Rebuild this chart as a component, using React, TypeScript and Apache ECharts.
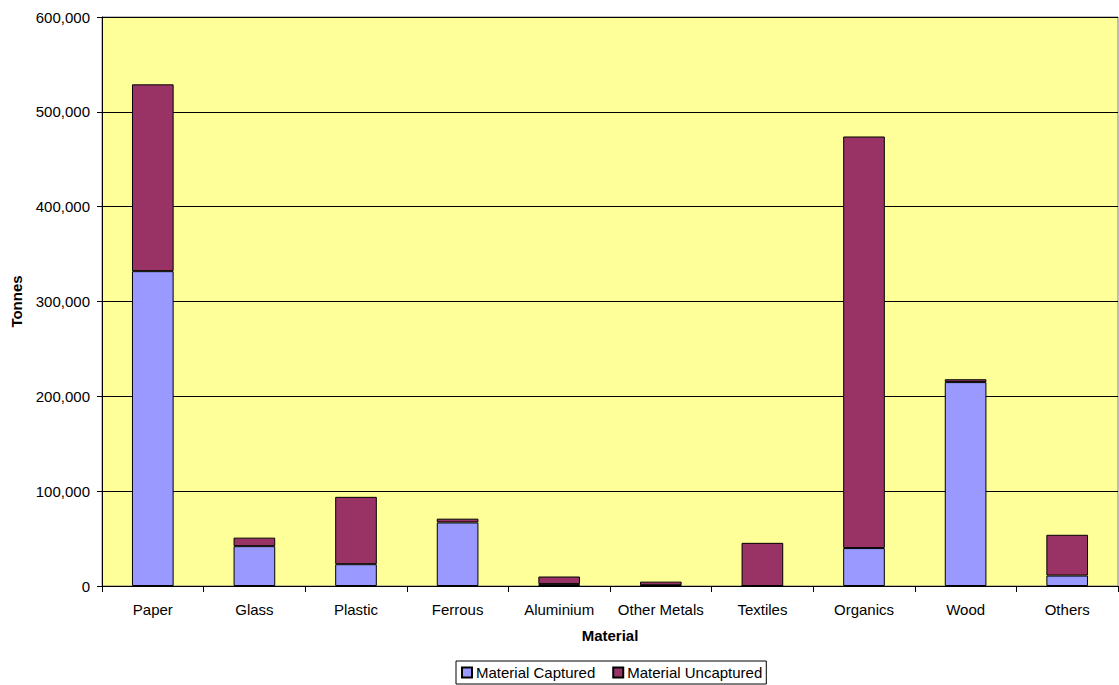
import React, { useEffect, useRef } from "react";
import * as echarts from "echarts";

const categories = [
  "Paper",
  "Glass",
  "Plastic",
  "Ferrous",
  "Aluminium",
  "Other Metals",
  "Textiles",
  "Organics",
  "Wood",
  "Others",
];

const captured = [332000, 42000, 23000, 67000, 2000, 800, 0, 40000, 215000, 11000];
const uncaptured = [197000, 9000, 71000, 4000, 8000, 3800, 45500, 434000, 3000, 43000];

const seriesNames = ["Material Captured", "Material Uncaptured"];
const yTicks = { min: 0, max: 600000, interval: 100000 };

const FONT = "Liberation Sans, Arial, sans-serif";

export default function App() {
  const ref = useRef<HTMLDivElement>(null);

  useEffect(() => {
    if (!ref.current) return;
    const chart = echarts.init(ref.current, undefined, { renderer: "svg" });
    const fmt = (v: number) => v.toLocaleString("en-US");
    chart.setOption({
      animation: false,
      textStyle: { fontFamily: FONT },
      grid: {
        left: 102,
        right: 1,
        top: 17,
        bottom: 99,
        outerBoundsMode: "none",
        containLabel: false,
        show: true,
        backgroundColor: "#FFFF99",
        borderColor: "#808080",
        borderWidth: 1,
      },
      legend: {
        top: 661,
        left: 456,
        data: seriesNames,
        icon: "rect",
        itemWidth: 10,
        itemHeight: 10,
        itemGap: 17,
        backgroundColor: "#FFFFFF",
        borderColor: "#000000",
        borderWidth: 1,
        borderRadius: 0,
        padding: [4, 4, 4, 5],
        textStyle: { fontFamily: FONT, fontSize: 15, color: "#000", padding: [0, 0, 0, -1] },
      },
      xAxis: {
        type: "category",
        data: categories,
        name: "Material",
        nameLocation: "middle",
        nameGap: 42,
        nameTextStyle: { fontFamily: FONT, fontSize: 15, fontWeight: "bold", color: "#000" },
        axisLine: { lineStyle: { color: "#000", width: 1 } },
        axisTick: { show: true, length: 6, interval: 0, lineStyle: { color: "#000" } },
        axisLabel: { fontFamily: FONT, fontSize: 15, color: "#000", margin: 16, interval: 0 },
      },
      yAxis: {
        type: "value",
        min: yTicks.min,
        max: yTicks.max,
        interval: yTicks.interval,
        name: "Tonnes",
        nameLocation: "middle",
        nameGap: 78,
        nameRotate: 90,
        nameTextStyle: { fontFamily: FONT, fontSize: 15, fontWeight: "bold", color: "#000" },
        axisLine: { show: true, lineStyle: { color: "#000", width: 1 } },
        axisTick: { show: true, length: 5, lineStyle: { color: "#000" } },
        axisLabel: { fontFamily: FONT, fontSize: 15, color: "#000", margin: 12, formatter: fmt },
        splitLine: { show: true, lineStyle: { color: "#000", width: 1 } },
      },
      series: [
        {
          name: seriesNames[0],
          type: "bar",
          stack: "total",
          data: captured,
          barWidth: "41%",
          itemStyle: { color: "#9999FF", borderColor: "#000", borderWidth: 1 },
        },
        {
          name: seriesNames[1],
          type: "bar",
          stack: "total",
          data: uncaptured,
          barWidth: "41%",
          itemStyle: { color: "#993366", borderColor: "#000", borderWidth: 1 },
        },
      ],
    });
    return () => chart.dispose();
  }, []);

  return (
    <div
      ref={ref}
      style={{ position: "fixed", left: 0, top: 0, width: 1119, height: 685, background: "#FFFFFF" }}
    />
  );
}
